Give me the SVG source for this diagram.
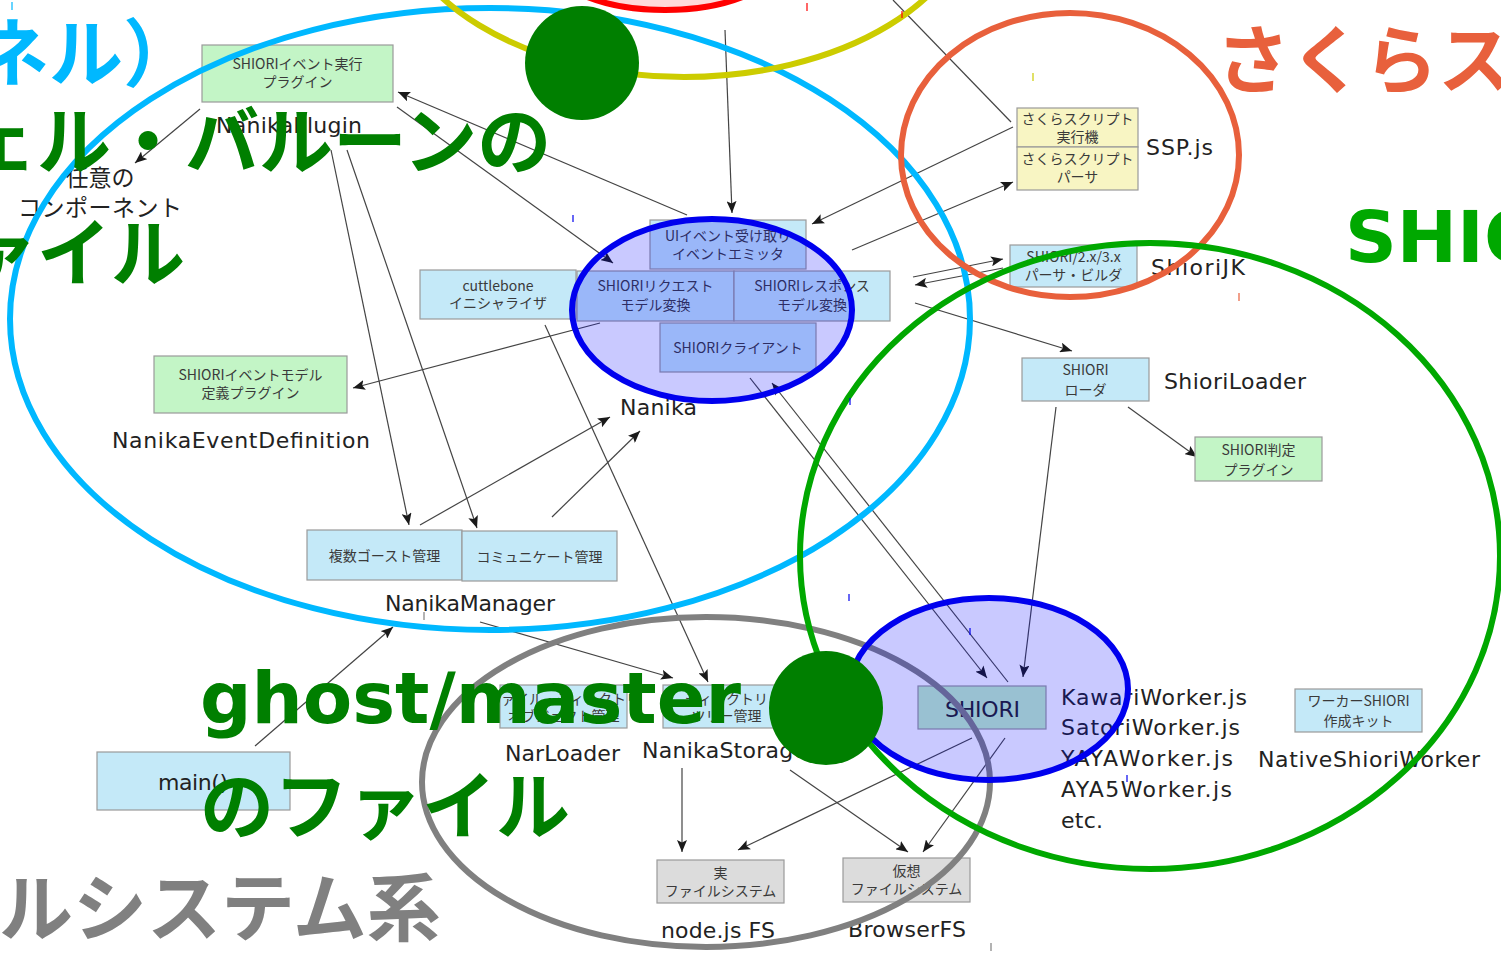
<svg xmlns="http://www.w3.org/2000/svg" width="1501" height="954" viewBox="0 0 1501 954">
<style>
.bx{stroke:#9a9a9a;stroke-width:1.2}
.fb{fill:#c4e9f8}
.fg{fill:#c3f5c6}
.fy{fill:#f8f5c3}
.fz{fill:#dcdcdc}
.t{font-family:"Noto Sans CJK JP","DejaVu Sans",sans-serif;font-size:14px;fill:#3a3a3a;text-anchor:middle}
.lbl{font-family:"DejaVu Sans","Noto Sans CJK JP",sans-serif;font-size:22px;fill:#222}
.cn line{stroke:#444;stroke-width:1.2;fill:none}
.ov{fill:none;stroke-width:6}
.big{font-family:"Noto Sans CJK JP",sans-serif;font-weight:700;font-size:74px}
.bigl{font-family:"DejaVu Sans",sans-serif;font-weight:700;font-size:72px}
.tick line{stroke-width:1.2}
</style>
<defs>
<marker id="ah" viewBox="0 0 12 10" refX="12" refY="5" markerWidth="12" markerHeight="10" orient="auto" markerUnits="userSpaceOnUse">
<path d="M0,0 L12,5 L0,10 L2.5,5 z" fill="#1a1a1a"/>
</marker>
</defs>
<rect x="0" y="0" width="1501" height="954" fill="#ffffff"/>

<g id="connectors" class="cn">
<line x1="200" y1="109" x2="135" y2="163" marker-end="url(#ah)"/>
<line x1="687" y1="215" x2="398" y2="92" marker-end="url(#ah)"/>
<line x1="397" y1="107" x2="613" y2="263" marker-end="url(#ah)"/>
<line x1="725" y1="30" x2="732" y2="213" marker-end="url(#ah)"/>
<line x1="1013" y1="127" x2="812" y2="224" marker-end="url(#ah)"/>
<line x1="852" y1="250" x2="1013" y2="182" marker-end="url(#ah)"/>
<line x1="893" y1="0" x2="1011" y2="122"/>
<line x1="913" y1="277" x2="1003" y2="259" marker-end="url(#ah)"/>
<line x1="1003" y1="268" x2="915" y2="285" marker-end="url(#ah)"/>
<line x1="915" y1="303" x2="1072" y2="351" marker-end="url(#ah)"/>
<line x1="1128" y1="407" x2="1197" y2="457" marker-end="url(#ah)"/>
<line x1="1056" y1="407" x2="1023" y2="677" marker-end="url(#ah)"/>
<line x1="750" y1="378" x2="987" y2="678" marker-end="url(#ah)"/>
<line x1="1008" y1="682" x2="772" y2="383" marker-end="url(#ah)"/>
<line x1="600" y1="323" x2="353" y2="388" marker-end="url(#ah)"/>
<line x1="331" y1="150" x2="409" y2="525" marker-end="url(#ah)"/>
<line x1="347" y1="150" x2="477" y2="528" marker-end="url(#ah)"/>
<line x1="420" y1="525" x2="610" y2="417" marker-end="url(#ah)"/>
<line x1="552" y1="517" x2="640" y2="431" marker-end="url(#ah)"/>
<line x1="545" y1="325" x2="708" y2="682" marker-end="url(#ah)"/>
<line x1="255" y1="746" x2="393" y2="627" marker-end="url(#ah)"/>
<line x1="480" y1="622" x2="673" y2="678" marker-end="url(#ah)"/>
<line x1="682" y1="768" x2="682" y2="852" marker-end="url(#ah)"/>
<line x1="790" y1="770" x2="908" y2="852" marker-end="url(#ah)"/>
<line x1="972" y1="738" x2="738" y2="850" marker-end="url(#ah)"/>
<line x1="1005" y1="738" x2="923" y2="852" marker-end="url(#ah)"/>
</g>

<g id="n-plugin-exec">
<rect class="bx fg" x="202" y="45" width="191" height="57"/>
<text class="t" x="297.5" y="69">SHIORIイベント実行</text>
<text class="t" x="297.5" y="87">プラグイン</text>
<text class="lbl" x="216" y="133" font-size="21" textLength="146" lengthAdjust="spacing">NanikaPlugin</text>
</g>
<g id="n-any">
<text class="lbl" x="100" y="186" text-anchor="middle" style="font-family:'Noto Sans CJK JP',sans-serif;font-size:23px">任意の</text>
<text class="lbl" x="18" y="216" style="font-family:'Noto Sans CJK JP',sans-serif;font-size:23px" textLength="164" lengthAdjust="spacing">コンポーネント</text>
</g>
<g id="n-cuttle">
<rect class="bx fb" x="420" y="270" width="156" height="49"/>
<text class="t" x="498" y="291">cuttlebone</text>
<text class="t" x="498" y="308">イニシャライザ</text>
</g>
<g id="n-ui">
<rect class="bx fb" x="650" y="220" width="156" height="49"/>
<text class="t" x="728" y="241">UIイベント受け取り</text>
<text class="t" x="728" y="259">イベントエミッタ</text>
</g>
<g id="n-req">
<rect class="bx fb" x="577" y="271" width="157" height="50"/>
<text class="t" x="655.5" y="291">SHIORIリクエスト</text>
<text class="t" x="655.5" y="310">モデル変換</text>
</g>
<g id="n-res">
<rect class="bx fb" x="734" y="271" width="156" height="50"/>
<text class="t" x="812" y="291">SHIORIレスポンス</text>
<text class="t" x="812" y="310">モデル変換</text>
</g>
<g id="n-client">
<rect class="bx fb" x="660" y="323" width="156" height="49"/>
<text class="t" x="738" y="353">SHIORIクライアント</text>
<text class="lbl" x="620" y="415" textLength="77" lengthAdjust="spacing">Nanika</text>
</g>
<g id="n-evdef">
<rect class="bx fg" x="154" y="356" width="193" height="57"/>
<text class="t" x="250.5" y="380">SHIORIイベントモデル</text>
<text class="t" x="250.5" y="398">定義プラグイン</text>
<text class="lbl" x="112" y="448" textLength="258" lengthAdjust="spacing">NanikaEventDefinition</text>
</g>
<g id="n-multi">
<rect class="bx fb" x="307" y="530" width="155" height="50"/>
<text class="t" x="384.5" y="561">複数ゴースト管理</text>
</g>
<g id="n-comm">
<rect class="bx fb" x="462" y="531" width="155" height="50"/>
<text class="t" x="539.5" y="562">コミュニケート管理</text>
<text class="lbl" x="385" y="611" textLength="170" lengthAdjust="spacing">NanikaManager</text>
</g>
<g id="n-main">
<rect class="bx fb" x="97" y="752" width="193" height="58"/>
<text class="lbl" x="158" y="790" font-size="21" textLength="70" lengthAdjust="spacing">main()</text>
</g>
<g id="n-nar">
<rect class="bx fb" x="500" y="685" width="127" height="43"/>
<text class="t" x="563.5" y="704">ファイル・ディレクトリ</text>
<text class="t" x="563.5" y="721">オブジェクト管理</text>
<text class="lbl" x="505" y="761" textLength="115" lengthAdjust="spacing">NarLoader</text>
</g>
<g id="n-storage">
<rect class="bx fb" x="663" y="685" width="127" height="43"/>
<text class="t" x="726.5" y="704">ディレクトリ</text>
<text class="t" x="726.5" y="721">ツリー管理</text>
<text class="lbl" x="642" y="758" textLength="165" lengthAdjust="spacing">NanikaStorage</text>
</g>
<g id="n-realfs">
<rect class="bx fz" x="657" y="860" width="127" height="43"/>
<text class="t" x="720.5" y="878">実</text>
<text class="t" x="720.5" y="896">ファイルシステム</text>
<text class="lbl" x="661" y="938" textLength="114" lengthAdjust="spacing">node.js FS</text>
</g>
<g id="n-virtfs">
<rect class="bx fz" x="843" y="858" width="127" height="44"/>
<text class="t" x="906.5" y="876">仮想</text>
<text class="t" x="906.5" y="894">ファイルシステム</text>
<text class="lbl" x="848" y="937" textLength="118" lengthAdjust="spacing">BrowserFS</text>
</g>
<g id="n-shiori">
<rect class="bx fg" x="918" y="686" width="128" height="43"/>
<text class="lbl" x="945" y="717" font-size="23" textLength="75" lengthAdjust="spacing">SHIORI</text>
</g>
<g id="n-workers">
<text class="lbl" x="1061" y="705" textLength="186" lengthAdjust="spacing">KawariWorker.js</text>
<text class="lbl" x="1061" y="735" textLength="179" lengthAdjust="spacing">SatoriWorker.js</text>
<text class="lbl" x="1061" y="766" textLength="172" lengthAdjust="spacing">YAYAWorker.js</text>
<text class="lbl" x="1061" y="797" textLength="171" lengthAdjust="spacing">AYA5Worker.js</text>
<text class="lbl" x="1061" y="828" textLength="42" lengthAdjust="spacing">etc.</text>
</g>
<g id="n-kit">
<rect class="bx fb" x="1295" y="689" width="127" height="43"/>
<text class="t" x="1358.5" y="706">ワーカーSHIORI</text>
<text class="t" x="1358.5" y="726">作成キット</text>
<text class="lbl" x="1258" y="767" textLength="222" lengthAdjust="spacing">NativeShioriWorker</text>
</g>
<g id="n-loader">
<rect class="bx fb" x="1022" y="358" width="127" height="43"/>
<text class="t" x="1085.5" y="375">SHIORI</text>
<text class="t" x="1085.5" y="395">ローダ</text>
<text class="lbl" x="1164" y="389" textLength="142" lengthAdjust="spacing">ShioriLoader</text>
</g>
<g id="n-judge">
<rect class="bx fg" x="1195" y="437" width="127" height="44"/>
<text class="t" x="1258.5" y="455">SHIORI判定</text>
<text class="t" x="1258.5" y="475">プラグイン</text>
</g>
<g id="n-jk">
<rect class="bx fb" x="1010" y="245" width="127" height="42"/>
<text class="t" x="1073.5" y="262">SHIORI/2.x/3.x</text>
<text class="t" x="1073.5" y="280">パーサ・ビルダ</text>
<text class="lbl" x="1151" y="275" textLength="94" lengthAdjust="spacing">ShioriJK</text>
</g>
<g id="n-sakura">
<rect class="bx fy" x="1017" y="108" width="121" height="39"/>
<text class="t" x="1077.5" y="124">さくらスクリプト</text>
<text class="t" x="1077.5" y="142">実行機</text>
<rect class="bx fy" x="1017" y="147" width="121" height="43"/>
<text class="t" x="1077.5" y="164">さくらスクリプト</text>
<text class="t" x="1077.5" y="182">パーサ</text>
<text class="lbl" x="1146" y="155" textLength="67" lengthAdjust="spacing">SSP.js</text>
</g>

<g id="overlays">
<ellipse class="ov" cx="706" cy="782" rx="284" ry="165" stroke="#808080"/>
<ellipse class="ov" cx="490" cy="319" rx="480" ry="311" stroke="#00b8ff"/>
<ellipse class="ov" cx="684" cy="-100" rx="290" ry="177" stroke="#cccc00"/>
<ellipse cx="665" cy="-45" rx="120" ry="55" fill="#ff0000" fill-opacity="0.15" stroke="#ff0000" stroke-width="6"/>
<ellipse class="ov" cx="1070" cy="155" rx="169" ry="142" stroke="#e8603c" stroke-width="5"/>
<ellipse class="ov" cx="1150" cy="556" rx="350" ry="313" stroke="#00a800"/>
<ellipse cx="712" cy="310" rx="140" ry="91" fill="#0000ff" fill-opacity="0.21" stroke="#0000ee" stroke-width="6"/>
<ellipse cx="989" cy="689" rx="139" ry="91" fill="#0000ff" fill-opacity="0.21" stroke="#0000ee" stroke-width="6"/>
</g>

<g id="ticks" class="tick">
<line x1="12" y1="2" x2="12" y2="10" stroke="#00b8ff"/>
<line x1="807" y1="3" x2="807" y2="11" stroke="#ff0000"/>
<line x1="902" y1="11" x2="902" y2="18" stroke="#ff0000"/>
<line x1="1033" y1="73" x2="1033" y2="81" stroke="#cccc00"/>
<line x1="573" y1="215" x2="573" y2="222" stroke="#0000ee"/>
<line x1="1239" y1="293" x2="1239" y2="301" stroke="#e8603c"/>
<line x1="850" y1="398" x2="850" y2="405" stroke="#0000ee"/>
<line x1="849" y1="594" x2="849" y2="601" stroke="#0000ee"/>
<line x1="970" y1="628" x2="970" y2="635" stroke="#0000ee"/>
<line x1="1127" y1="775" x2="1127" y2="782" stroke="#0000ee"/>
<line x1="991" y1="943" x2="991" y2="951" stroke="#808080"/>
<line x1="424" y1="612" x2="424" y2="620" stroke="#808080"/>
</g>

<g id="annotations">
<text class="big" x="-25" y="80" fill="#00b8ff" font-size="75">ネル）</text>
<text class="big" x="-37" y="168" fill="#007f00">ェル・バルーンの</text>
<text class="big" x="-37" y="280" fill="#007f00">ァイル</text>
<text class="bigl" x="200" y="723" fill="#007f00">ghost/master</text>
<text class="big" x="200" y="833" fill="#007f00">のファイル</text>
<text class="big" x="-1" y="935" fill="#808080">ルシステム系</text>
<text class="big" x="1216" y="87" fill="#e8603c">さくらス</text>
<text class="bigl" x="1345" y="262" fill="#00a800">SHIO</text>
<circle cx="582" cy="63" r="57" fill="#007f00"/>
<circle cx="826" cy="708" r="57" fill="#007f00"/>
</g>
</svg>
